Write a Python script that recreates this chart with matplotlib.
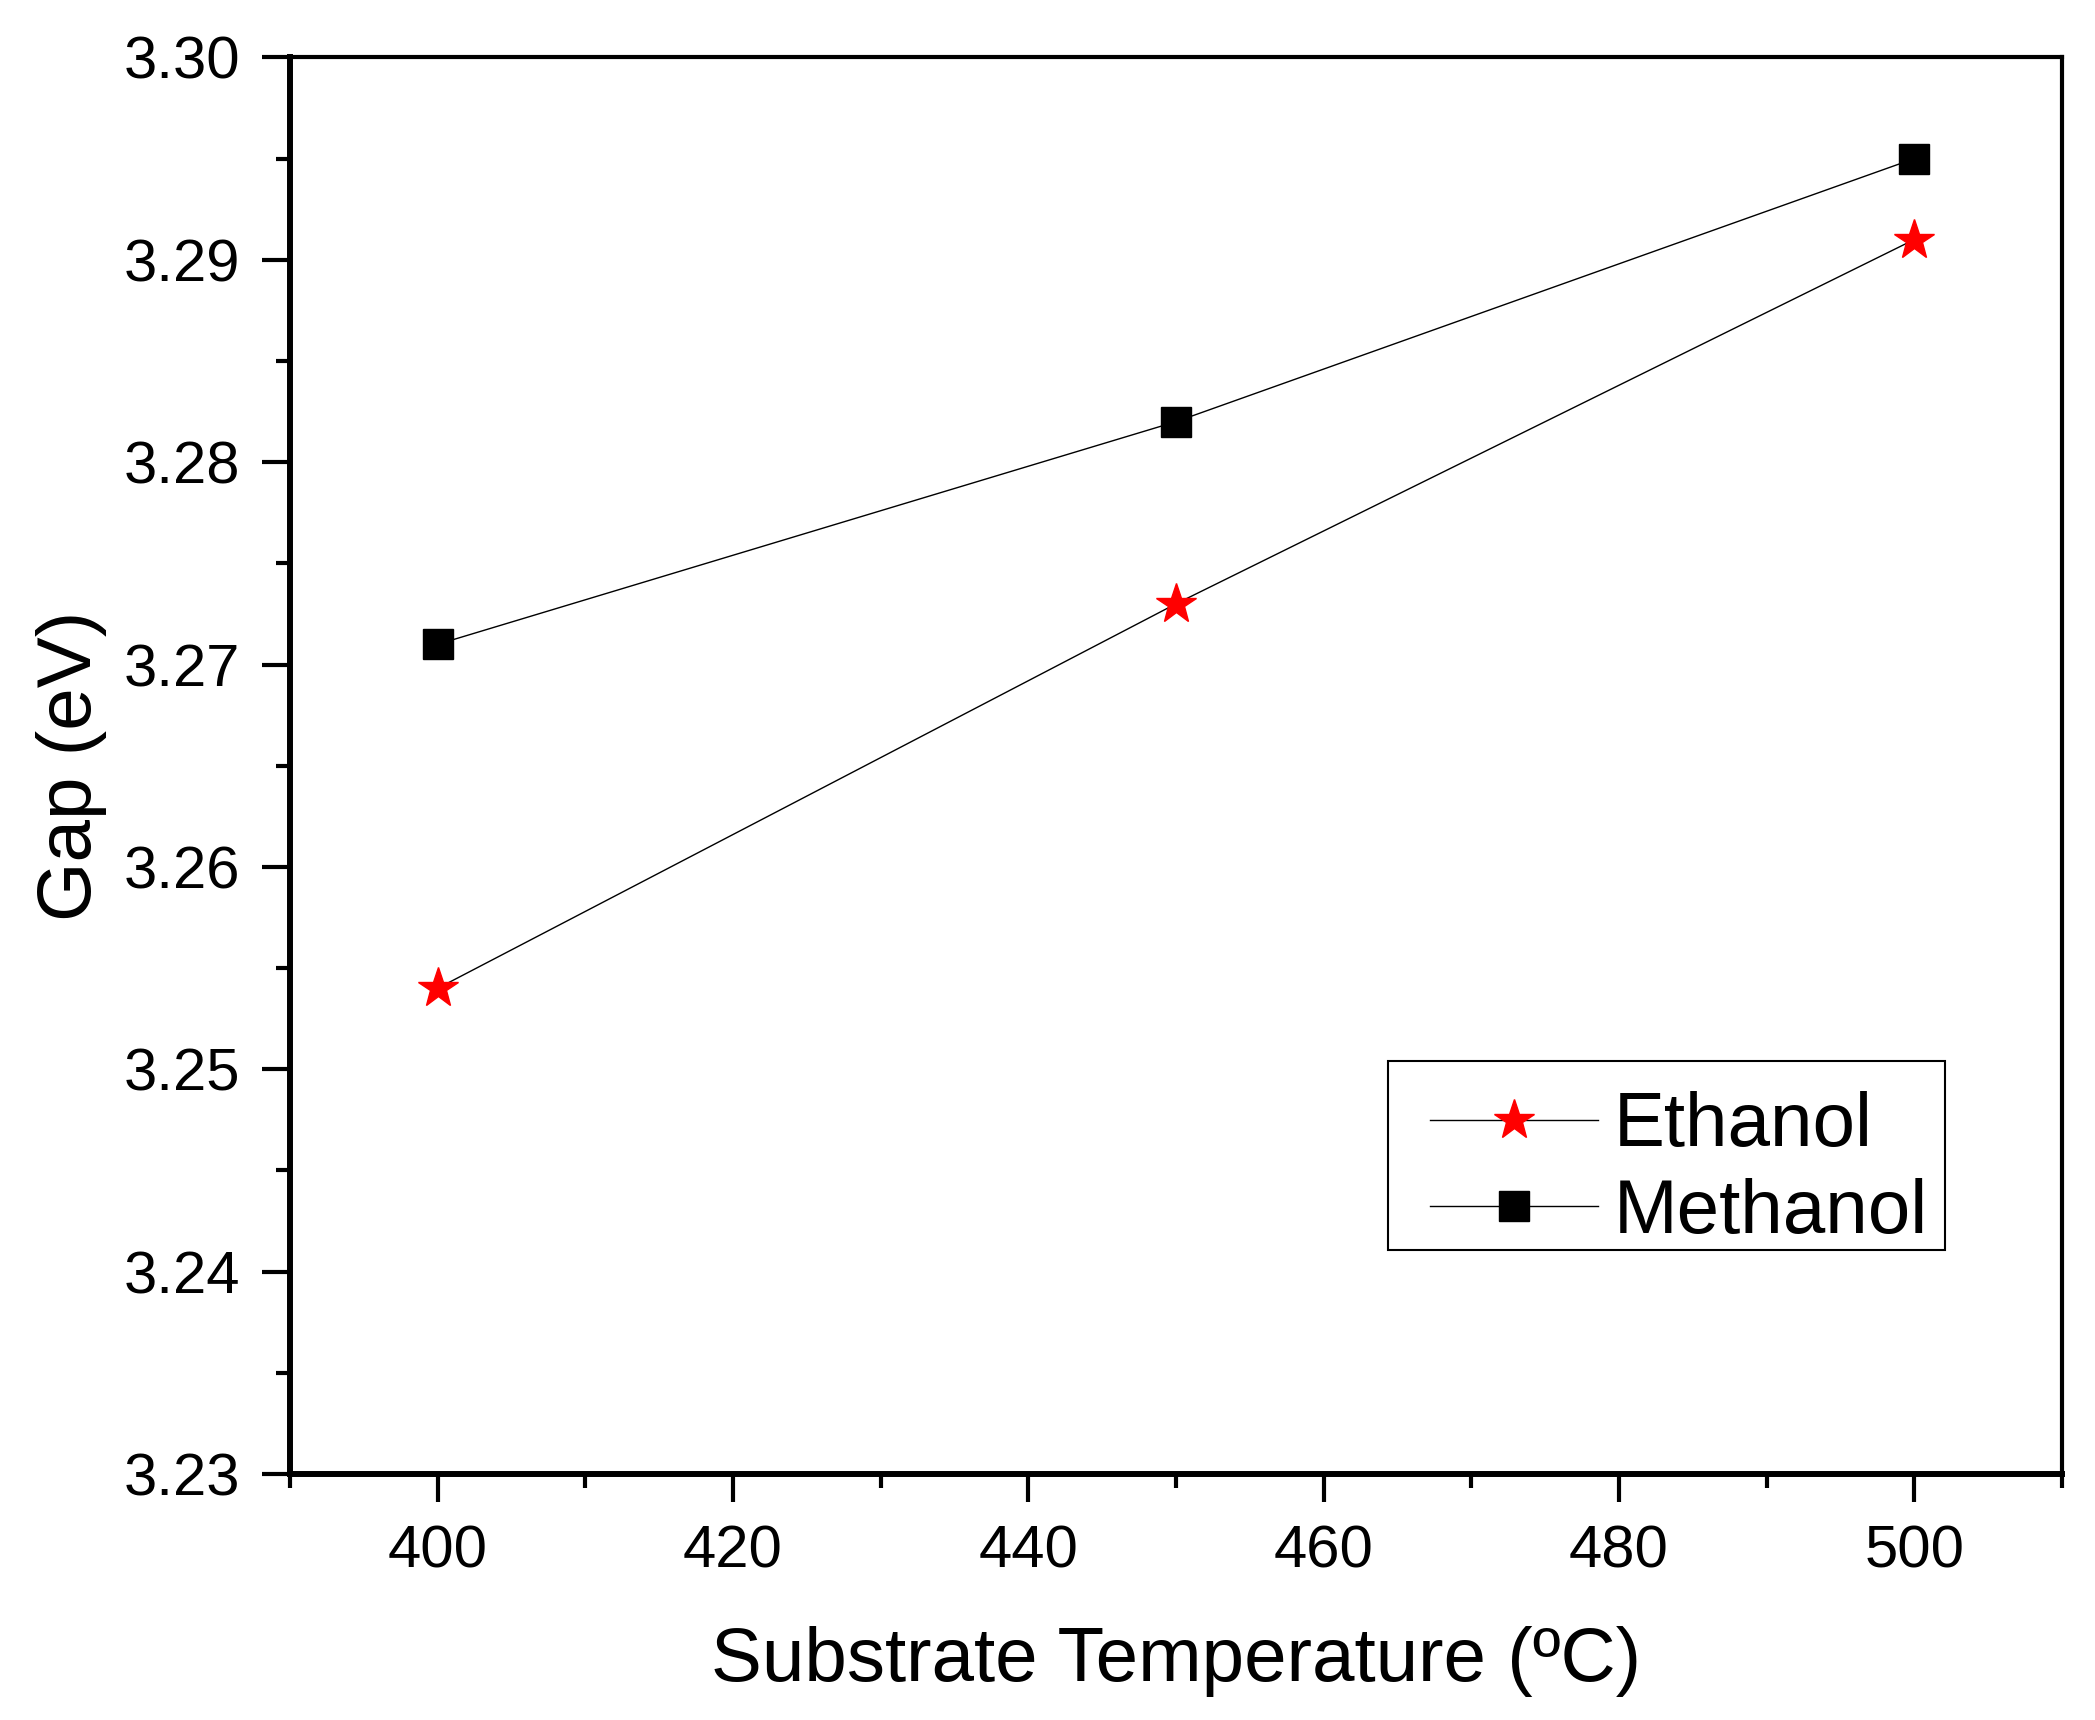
import matplotlib
matplotlib.use("Agg")
import matplotlib.pyplot as plt
from matplotlib.patches import Rectangle
from matplotlib.ticker import MultipleLocator

plt.rcParams['font.family'] = ['Liberation Sans', 'DejaVu Sans']

# Data
temperature = [400, 450, 500]
ethanol_gap = [3.254, 3.273, 3.291]
methanol_gap = [3.271, 3.282, 3.295]

fig = plt.figure(figsize=(20.95, 17.2), dpi=100)
ax = fig.add_axes([0.1384, 0.143, 0.8458, 0.8236])

ax.plot(temperature, ethanol_gap, color='black', lw=1.0, marker='*',
        markersize=30, markerfacecolor='red', markeredgecolor='red',
        label='Ethanol')
ax.plot(temperature, methanol_gap, color='black', lw=1.0, marker='s',
        markersize=22, markerfacecolor='black', markeredgecolor='black',
        label='Methanol')

ax.set_xlim(390, 510)
ax.set_ylim(3.23, 3.30)
ax.xaxis.set_major_locator(MultipleLocator(20))
ax.xaxis.set_minor_locator(MultipleLocator(10))
ax.yaxis.set_major_locator(MultipleLocator(0.01))
ax.yaxis.set_minor_locator(MultipleLocator(0.005))
ax.yaxis.set_major_formatter(plt.FormatStrFormatter('%.2f'))

for side in ['left', 'bottom']:
    ax.spines[side].set_linewidth(4.3)
for side in ['top', 'right']:
    ax.spines[side].set_linewidth(3.0)

ax.tick_params(which='major', direction='out', length=20, width=3,
               labelsize=43, top=False, right=False)
ax.tick_params(which='minor', direction='out', length=10, width=3,
               top=False, right=False)
ax.tick_params(axis='y', which='major', pad=16)
ax.tick_params(axis='x', which='major', pad=16)

ax.set_xlabel('Substrate Temperature (ºC)', fontsize=55, labelpad=34)
ax.set_ylabel('Gap (eV)', fontsize=55, labelpad=12)

# legend without its own frame, box drawn separately (wider left padding like Origin)
leg = ax.legend(loc='center', bbox_to_anchor=(0.7838, 0.2146),
                fontsize=55, frameon=False, handlelength=2.2,
                handletextpad=0.2, borderpad=0, labelspacing=0.2,
                borderaxespad=0)
ax.add_patch(Rectangle((0.6196, 0.158), 0.3144, 0.1336, transform=ax.transAxes,
                       fill=False, edgecolor='black', lw=1.5, zorder=5))

fig.savefig('out.png', dpi=100)
